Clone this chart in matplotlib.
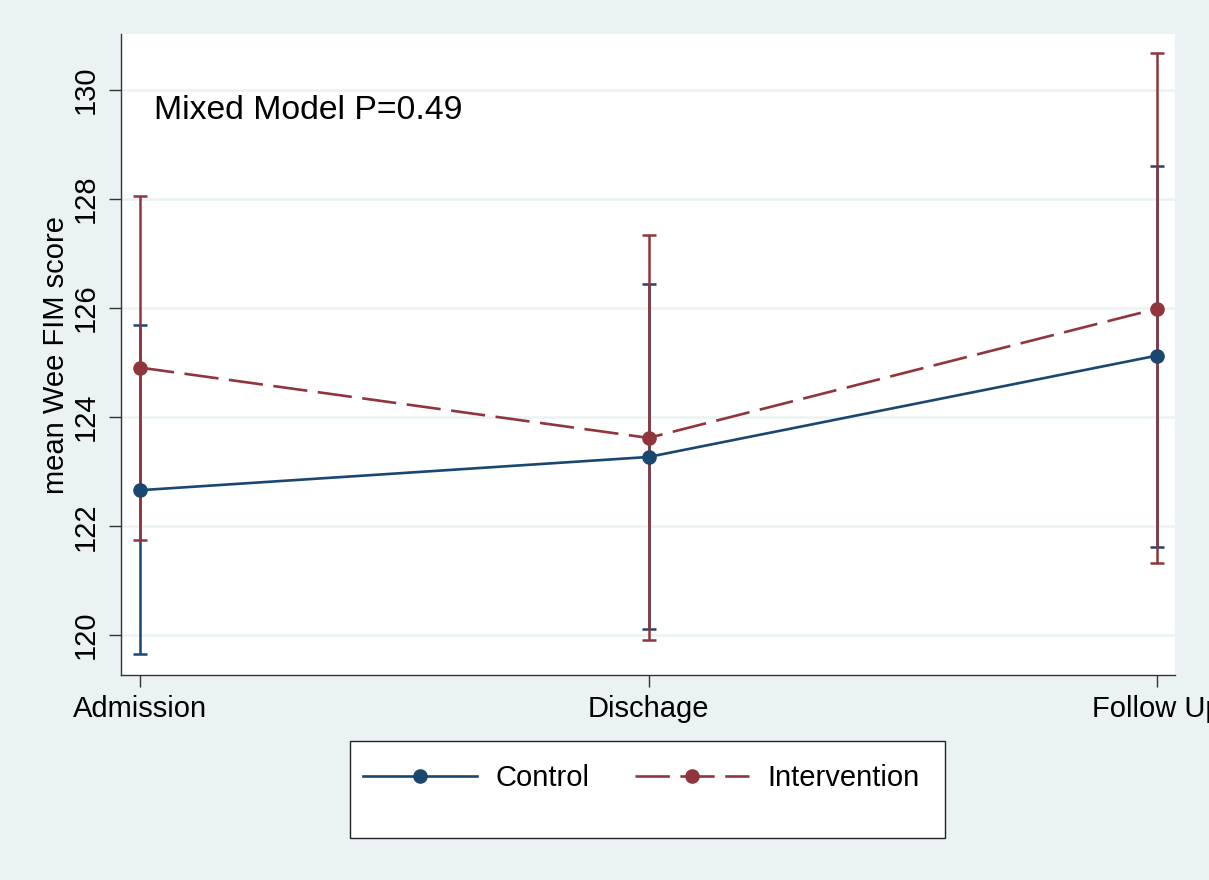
import matplotlib
matplotlib.use("Agg")
import matplotlib.pyplot as plt
from matplotlib.lines import Line2D
from matplotlib.patches import Rectangle

# Datos
momentos = ["Admission", "Dischage", "Follow Up"]
control_media = [122.66, 123.27, 125.13]
control_inf = [119.65, 120.12, 121.62]
control_sup = [125.69, 126.44, 128.61]
interv_media = [124.91, 123.62, 125.99]
interv_inf = [121.74, 119.92, 121.33]
interv_sup = [128.05, 127.34, 130.68]
yticks = [120, 122, 124, 126, 128, 130]

navy = "#1A476F"
maroon = "#90353B"
fondo = "#EAF2F3"
guiones = (0, (13, 4))

plt.rcParams["font.family"] = ["Liberation Sans", "DejaVu Sans"]

fig = plt.figure(figsize=(12.09, 8.80), dpi=100, facecolor=fondo)
ax = fig.add_axes([121 / 1209, 1 - 675 / 880, (1175 - 121) / 1209, (675 - 34) / 880])
ax.set_facecolor("white")

x = list(range(len(momentos)))

# Intervalos de confianza
err_c = [[m - lo for m, lo in zip(control_media, control_inf)],
         [hi - m for m, hi in zip(control_media, control_sup)]]
err_i = [[m - lo for m, lo in zip(interv_media, interv_inf)],
         [hi - m for m, hi in zip(interv_media, interv_sup)]]
ax.errorbar(x, control_media, yerr=err_c, fmt="none", ecolor=navy,
            elinewidth=1.8, capsize=5, capthick=1.8, zorder=2)
ax.errorbar(x, interv_media, yerr=err_i, fmt="none", ecolor=maroon,
            elinewidth=1.8, capsize=5, capthick=1.8, zorder=3)

# Lineas de medias
ax.plot(x, interv_media, color=maroon, lw=1.9, linestyle=guiones,
        marker="o", ms=9.5, zorder=4)
ax.plot(x, control_media, color=navy, lw=1.9, linestyle="-",
        marker="o", ms=9.5, zorder=5)

ax.set_xlim(-0.0374, 2.0354)
ax.set_ylim(119.27, 131.03)
ax.set_xticks(x)
ax.set_xticklabels(momentos)
ax.set_yticks(yticks)
ax.set_yticklabels([str(v) for v in yticks])
for lab in ax.get_yticklabels():
    lab.set_rotation(90)
    lab.set_va("center")

ax.yaxis.grid(True, color=fondo, lw=1.8)
ax.set_axisbelow(True)
for lado in ["top", "right"]:
    ax.spines[lado].set_visible(False)
for lado in ["left", "bottom"]:
    ax.spines[lado].set_color("#333333")
    ax.spines[lado].set_linewidth(1.0)
ax.tick_params(axis="both", length=8.6, width=1.0, color="#333333",
               labelsize=21, direction="out")
ax.tick_params(axis="y", pad=7)
ax.tick_params(axis="x", pad=6)

ax.set_ylabel("mean Wee FIM score", fontsize=21, labelpad=1)

ax.text(0.0275, 129.62, "Mixed Model P=0.49", fontsize=24.3, va="center", ha="left")

# Leyenda
fig.patches.append(Rectangle((350 / 1209, 1 - 838 / 880), (945 - 350) / 1209,
                             (838 - 741) / 880, transform=fig.transFigure,
                             facecolor="white", edgecolor="#222222", lw=1.0, zorder=1))
handles = [Line2D([], [], color=navy, lw=1.9, marker="o", ms=9.5),
           Line2D([], [], color=maroon, lw=1.9, linestyle=guiones, marker="o", ms=9.5)]
fig.legend(handles, ["Control", "Intervention"], loc="center left",
           bbox_to_anchor=(363 / 1209, 1 - 778 / 880), bbox_transform=fig.transFigure,
           ncol=2, frameon=False, fontsize=21, handlelength=3.9, handletextpad=0.65,
           columnspacing=1.55, borderpad=0, borderaxespad=0)

fig.savefig("out.png", dpi=100, facecolor=fondo)
